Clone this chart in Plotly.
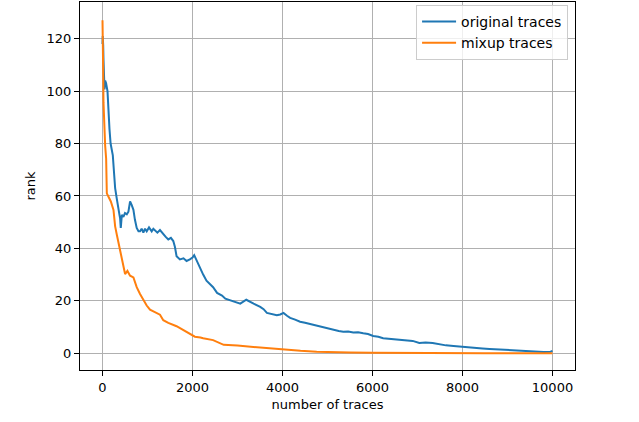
import plotly.graph_objects as go

# Read-off values (number of traces, rank)
orig_x = [0, 5, 15, 22, 30, 45, 59, 80, 111, 130, 155, 180, 207, 229, 260, 281, 317, 354, 380, 391, 406,
          430, 465, 500, 540, 576, 613, 650, 687, 720, 760, 800, 834, 870, 908, 945, 982, 1034, 1093,
          1130, 1166, 1220, 1277, 1351, 1400, 1462, 1520, 1573, 1610, 1646, 1720, 1800, 1868, 1942,
          2000, 2038, 2100, 2163, 2237, 2311, 2400, 2458, 2546, 2606, 2656, 2730, 2815, 2915, 3000,
          3062, 3195, 3280, 3358, 3505, 3580, 3653, 3760, 3874, 3950, 4022, 4100, 4170, 4280, 4391,
          4500, 4613, 4760, 4870, 4982, 5130, 5250, 5351, 5460, 5573, 5680, 5794, 5900, 6016, 6130,
          6237, 6400, 6597, 6750, 6893, 7040, 7180, 7336, 7500, 7631, 7800, 8000, 8200, 8443, 8600,
          8812, 9000, 9255, 9400, 9550, 9800, 9956, 9999]
orig_y = [118, 121, 117.6, 112, 102, 100.6, 104, 103, 100, 92, 85.5, 80, 78, 75.5, 68, 63, 59, 54, 52.5, 51.5, 47.8,
          52.8, 52, 53.5, 53, 54, 57.9, 56.5, 54.7, 51, 47.8, 46.5, 46.5, 47.5, 46, 47.5, 46.5, 48, 46.5,
          47.5, 47, 46, 47, 45.3, 44.5, 43.4, 44, 42.8, 40.5, 37, 35.8, 36.2, 35.2, 35.8,
          36.5, 37.4, 35, 32.7, 30, 27.7, 26, 25.2, 23, 22.5, 22, 20.8, 20.3, 19.9, 19.5,
          18.9, 20.4, 19.5, 18.9, 17.7, 16.8, 15.4, 15, 14.5, 14.8, 15.4, 14.3, 13.5, 12.8, 12,
          11.6, 11.1, 10.7, 10, 9.5, 8.8, 8.5, 8.2, 8.3, 7.9, 8.0, 7.6, 7.3, 6.6, 6.3,
          5.7, 5.5, 5.3, 5.0, 4.7, 3.9, 4.1, 3.9, 3.4, 3.0, 2.8, 2.4, 2.1, 1.8, 1.6,
          1.4, 1.2, 0.8, 0.7, 0.5, 0.5, 0.6, 0.9]

mix_x = [0, 8, 15, 22, 37, 59, 81, 96, 133, 185, 244, 281, 317, 376, 428, 465, 502, 554, 613, 687,
         760, 834, 908, 982, 1056, 1166, 1277, 1351, 1462, 1646, 1794, 1942, 2053, 2176, 2237, 2458,
         2606, 2693, 3000, 3284, 3600, 4022, 4400, 4760, 5100, 5500, 6000, 6606, 7500, 8500, 9999]
mix_y = [127, 120.7, 108, 95.6, 85.5, 79.2, 74.2, 61, 59.7, 57.9, 54.7, 48.4, 45.3, 40.3, 37.1, 32.7,
         30.2, 31.4, 29.6, 28.9, 25.2, 22.6, 20.1, 18.2, 16.6, 15.7, 14.7, 12.6, 11.6, 10.3, 8.8, 7.5,
         6.3, 6.0, 5.7, 5.0, 3.8, 3.2, 2.9, 2.5, 2.0, 1.3, 0.9, 0.6, 0.4, 0.3, 0.15, 0.05, 0.0, 0.0, 0.0]

series_names = ["original traces", "mixup traces"]
x_ticks = [0, 2000, 4000, 6000, 8000, 10000]
y_ticks = [0, 20, 40, 60, 80, 100, 120]

fig = go.Figure()
fig.add_trace(go.Scatter(x=orig_x, y=orig_y, mode="lines", name=series_names[0],
                         line=dict(color="#1f77b4", width=2)))
fig.add_trace(go.Scatter(x=mix_x, y=mix_y, mode="lines", name=series_names[1],
                         line=dict(color="#ff7f0e", width=2)))

axis_common = dict(showline=True, linecolor="black", linewidth=1, mirror=True,
                   showgrid=True, gridcolor="#b0b0b0", gridwidth=1, zeroline=False,
                   ticks="outside", ticklen=5, tickcolor="black", tickwidth=1,
                   tickfont=dict(family="DejaVu Sans", size=13, color="black"))

fig.update_xaxes(range=[-500, 10500], tickvals=x_ticks, ticktext=[str(v) for v in x_ticks],
                 title=dict(text="number of traces", font=dict(family="DejaVu Sans", size=13, color="black"), standoff=6),
                 **axis_common)
fig.update_yaxes(range=[-6.4, 134], tickvals=y_ticks, ticktext=[str(v) for v in y_ticks],
                 title=dict(text="rank", font=dict(family="DejaVu Sans", size=13, color="black"), standoff=8),
                 **axis_common)

fig.update_layout(width=639, height=422, margin=dict(l=80, r=64, t=2, b=52),
                  plot_bgcolor="white", paper_bgcolor="white",
                  font=dict(family="DejaVu Sans", size=13, color="black"),
                  legend=dict(x=0.986, y=0.992, xanchor="right", yanchor="top",
                              bgcolor="rgba(255,255,255,0.8)", bordercolor="#cccccc", borderwidth=1,
                              font=dict(family="DejaVu Sans", size=14, color="black"),
                              tracegroupgap=0, itemwidth=34),
                  showlegend=True)

fig.write_html("out.html", config={"displayModeBar": False},
               post_script="document.body.style.margin='0px';document.body.style.padding='0px';")
